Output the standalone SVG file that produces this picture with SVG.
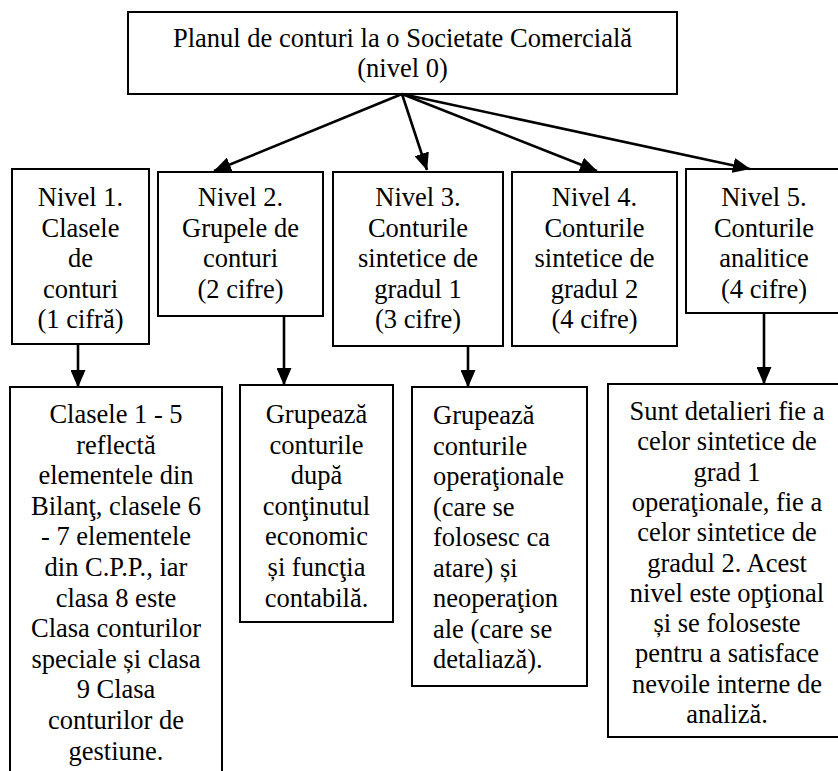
<svg xmlns="http://www.w3.org/2000/svg" width="838" height="771" viewBox="0 0 838 771">
<style>
.box{fill:#fff;stroke:#000;stroke-width:2}
text{font-family:"Liberation Serif","Times New Roman",serif;font-size:26.5px;fill:#000}
.c{text-anchor:middle}
.conn line{stroke:#000;stroke-width:2.6;marker-end:url(#ah)}
</style>
<defs>
<marker id="ah" markerUnits="userSpaceOnUse" markerWidth="18" markerHeight="15" refX="17" refY="7.5" orient="auto" viewBox="0 0 18 15">
<path d="M0,0 L17.5,7.5 L0,15 z" fill="#000"/>
</marker>
</defs>
<rect width="838" height="771" fill="#fff"/>
<g id="n0">
<rect class="box" x="128" y="12" width="549" height="82"/>
<text class="c" x="402.5" y="47">Planul de conturi la o Societate Comercială</text>
<text class="c" x="402.5" y="77">(nivel 0)</text>
</g>
<g id="n1">
<rect class="box" x="12" y="169" width="137" height="175"/>
<text class="c" x="80.5" y="206">Nivel 1.</text>
<text class="c" x="80.5" y="236.5">Clasele</text>
<text class="c" x="80.5" y="267">de</text>
<text class="c" x="80.5" y="297.5">conturi</text>
<text class="c" x="80.5" y="328">(1 cifră)</text>
</g>
<g id="n2">
<rect class="box" x="158" y="172" width="165" height="144"/>
<text class="c" x="240.5" y="206">Nivel 2.</text>
<text class="c" x="240.5" y="236.5">Grupele de</text>
<text class="c" x="240.5" y="267">conturi</text>
<text class="c" x="240.5" y="297.5">(2 cifre)</text>
</g>
<g id="n3">
<rect class="box" x="333" y="172" width="170" height="174"/>
<text class="c" x="418" y="206">Nivel 3.</text>
<text class="c" x="418" y="236.5">Conturile</text>
<text class="c" x="418" y="267">sintetice de</text>
<text class="c" x="418" y="297.5">gradul 1</text>
<text class="c" x="418" y="328">(3 cifre)</text>
</g>
<g id="n4">
<rect class="box" x="512" y="172" width="165" height="174"/>
<text class="c" x="594.5" y="206">Nivel 4.</text>
<text class="c" x="594.5" y="236.5">Conturile</text>
<text class="c" x="594.5" y="267">sintetice de</text>
<text class="c" x="594.5" y="297.5">gradul 2</text>
<text class="c" x="594.5" y="328">(4 cifre)</text>
</g>
<g id="n5">
<rect class="box" x="686" y="169" width="156" height="144"/>
<text class="c" x="764" y="206">Nivel 5.</text>
<text class="c" x="764" y="236.5">Conturile</text>
<text class="c" x="764" y="267">analitice</text>
<text class="c" x="764" y="297.5">(4 cifre)</text>
</g>
<g id="d1">
<rect class="box" x="10" y="387" width="212" height="400"/>
<text class="c" x="116" y="423">Clasele 1 - 5</text>
<text class="c" x="116" y="453.6">reflectă</text>
<text class="c" x="116" y="484.2">elementele din</text>
<text class="c" x="116" y="514.8">Bilanţ, clasele 6</text>
<text class="c" x="116" y="545.4">- 7 elementele</text>
<text class="c" x="116" y="576">din C.P.P., iar</text>
<text class="c" x="116" y="606.6">clasa 8 este</text>
<text class="c" x="116" y="637.2">Clasa conturilor</text>
<text class="c" x="116" y="667.8">speciale și clasa</text>
<text class="c" x="116" y="698.4">9 Clasa</text>
<text class="c" x="116" y="729">conturilor de</text>
<text class="c" x="116" y="759.6">gestiune.</text>
</g>
<g id="d2">
<rect class="box" x="240" y="385" width="153" height="237"/>
<text class="c" x="316.5" y="423">Grupează</text>
<text class="c" x="316.5" y="453.6">conturile</text>
<text class="c" x="316.5" y="484.2">după</text>
<text class="c" x="316.5" y="514.8">conţinutul</text>
<text class="c" x="316.5" y="545.4">economic</text>
<text class="c" x="316.5" y="576">și funcţia</text>
<text class="c" x="316.5" y="606.6">contabilă.</text>
</g>
<g id="d3">
<rect class="box" x="412" y="387" width="175" height="299"/>
<text x="433" y="424">Grupează</text>
<text x="433" y="454.5">conturile</text>
<text x="433" y="485">operaţionale</text>
<text x="433" y="515.5">(care se</text>
<text x="433" y="546">folosesc ca</text>
<text x="433" y="576.5">atare) și</text>
<text x="433" y="607">neoperaţion</text>
<text x="433" y="637.5">ale (care se</text>
<text x="433" y="668">detaliază).</text>
</g>
<g id="d5">
<rect class="box" x="608" y="384" width="238" height="353"/>
<text class="c" x="727" y="420">Sunt detalieri fie a</text>
<text class="c" x="727" y="450.3">celor sintetice de</text>
<text class="c" x="727" y="480.6">grad 1</text>
<text class="c" x="727" y="510.9">operaţionale, fie a</text>
<text class="c" x="727" y="541.2">celor sintetice de</text>
<text class="c" x="727" y="571.5">gradul 2. Acest</text>
<text class="c" x="727" y="601.8">nivel este opţional</text>
<text class="c" x="727" y="632.1">și se foloseste</text>
<text class="c" x="727" y="662.4">pentru a satisface</text>
<text class="c" x="727" y="692.7">nevoile interne de</text>
<text class="c" x="727" y="723">analiză.</text>
</g>
<g id="connectors" class="conn">
<line x1="402" y1="94" x2="214" y2="171"/>
<line x1="402" y1="94" x2="427" y2="170"/>
<line x1="402" y1="94" x2="597" y2="171"/>
<line x1="402" y1="94" x2="750" y2="169"/>
<line x1="78" y1="344" x2="78" y2="387"/>
<line x1="284" y1="316" x2="284" y2="385"/>
<line x1="468" y1="346" x2="468" y2="387"/>
<line x1="764" y1="313" x2="764" y2="384"/>
</g>
</svg>
